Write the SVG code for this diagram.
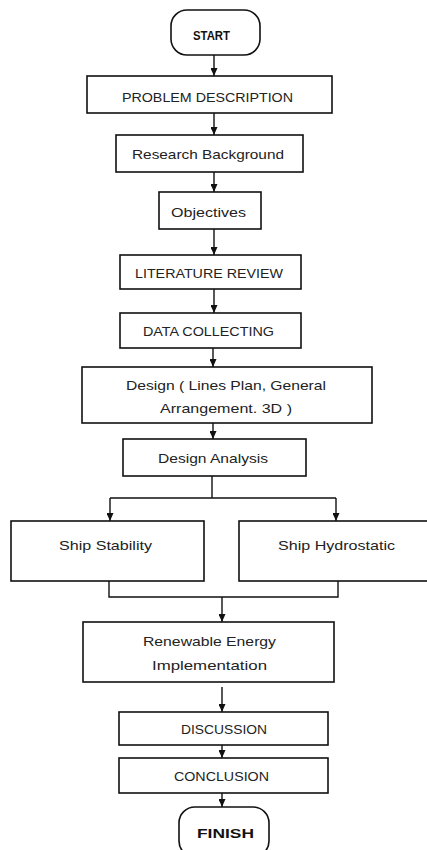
<svg xmlns="http://www.w3.org/2000/svg" width="427" height="850" viewBox="0 0 427 850">
<style>
.box{fill:#fff;stroke:#111;stroke-width:1.6}
.t{font-family:"Liberation Sans",Arial,sans-serif;font-size:13.5px;fill:#222}
.b{font-weight:bold;fill:#111}
.c{fill:none;stroke:#111;stroke-width:1.4}
</style>
<defs>
<marker id="a" markerUnits="userSpaceOnUse" markerWidth="8" markerHeight="7" viewBox="0 0 8 7" refX="8" refY="3.5" orient="auto">
<path d="M0,0 L8,3.5 L0,7 Z" fill="#111"/>
</marker>
</defs>
<rect width="427" height="850" fill="#fff"/>
<g id="connectors">
<path class="c" d="M214,55 V76" marker-end="url(#a)"/>
<path class="c" d="M214,113 V135" marker-end="url(#a)"/>
<path class="c" d="M214,172 V192" marker-end="url(#a)"/>
<path class="c" d="M214,229 V255" marker-end="url(#a)"/>
<path class="c" d="M214,289 V313" marker-end="url(#a)"/>
<path class="c" d="M213,348 V367" marker-end="url(#a)"/>
<path class="c" d="M213,423 V439" marker-end="url(#a)"/>
<path class="c" d="M212,476 V498 M110,498 H336"/>
<path class="c" d="M110,498 V521" marker-end="url(#a)"/>
<path class="c" d="M336,498 V521" marker-end="url(#a)"/>
<path class="c" d="M109,581 V597 H338 V581"/>
<path class="c" d="M222,597 V622" marker-end="url(#a)"/>
<path class="c" d="M222,687 V712" marker-end="url(#a)"/>
<path class="c" d="M222,745 V758" marker-end="url(#a)"/>
<path class="c" d="M222,793 V807" marker-end="url(#a)"/>
</g>
<g id="start"><rect class="box" x="171" y="10" width="89" height="45" rx="16"/><text class="t b" x="193" y="40" textLength="37" lengthAdjust="spacingAndGlyphs">START</text></g>
<g id="problem"><rect class="box" x="87" y="76" width="245" height="37"/><text class="t" x="122" y="102" textLength="171" lengthAdjust="spacingAndGlyphs">PROBLEM DESCRIPTION</text></g>
<g id="research"><rect class="box" x="116" y="135" width="187" height="37"/><text class="t" x="132" y="159" textLength="152" lengthAdjust="spacingAndGlyphs">Research Background</text></g>
<g id="objectives"><rect class="box" x="159" y="192" width="102" height="37"/><text class="t" x="171" y="217" textLength="75" lengthAdjust="spacingAndGlyphs">Objectives</text></g>
<g id="literature"><rect class="box" x="120" y="255" width="181" height="34"/><text class="t" x="135" y="278" textLength="148" lengthAdjust="spacingAndGlyphs">LITERATURE REVIEW</text></g>
<g id="data"><rect class="box" x="120" y="313" width="181" height="35"/><text class="t" x="143" y="336" textLength="131" lengthAdjust="spacingAndGlyphs">DATA COLLECTING</text></g>
<g id="design"><rect class="box" x="82" y="367" width="290" height="56"/><text class="t" x="126" y="390" textLength="200" lengthAdjust="spacingAndGlyphs">Design ( Lines Plan, General</text><text class="t" x="160" y="413" textLength="132" lengthAdjust="spacingAndGlyphs">Arrangement. 3D )</text></g>
<g id="analysis"><rect class="box" x="123" y="439" width="183" height="37"/><text class="t" x="158" y="463" textLength="110" lengthAdjust="spacingAndGlyphs">Design Analysis</text></g>
<g id="stability"><rect class="box" x="11" y="521" width="193" height="60"/><text class="t" x="59" y="550" textLength="93" lengthAdjust="spacingAndGlyphs">Ship Stability</text></g>
<g id="hydrostatic"><rect class="box" x="239" y="521" width="200" height="60"/><text class="t" x="278" y="550" textLength="117" lengthAdjust="spacingAndGlyphs">Ship Hydrostatic</text></g>
<g id="renewable"><rect class="box" x="83" y="622" width="251" height="60"/><text class="t" x="143" y="646" textLength="133" lengthAdjust="spacingAndGlyphs">Renewable Energy</text><text class="t" x="152" y="670" textLength="115" lengthAdjust="spacingAndGlyphs">Implementation</text></g>
<g id="discussion"><rect class="box" x="119" y="712" width="209" height="33"/><text class="t" x="181" y="734" textLength="86" lengthAdjust="spacingAndGlyphs">DISCUSSION</text></g>
<g id="conclusion"><rect class="box" x="119" y="758" width="209" height="35"/><text class="t" x="174" y="781" textLength="95" lengthAdjust="spacingAndGlyphs">CONCLUSION</text></g>
<g id="finish"><rect class="box" x="179" y="807" width="90" height="50" rx="16"/><text class="t b" x="197" y="838" textLength="57" lengthAdjust="spacingAndGlyphs">FINISH</text></g>
</svg>
